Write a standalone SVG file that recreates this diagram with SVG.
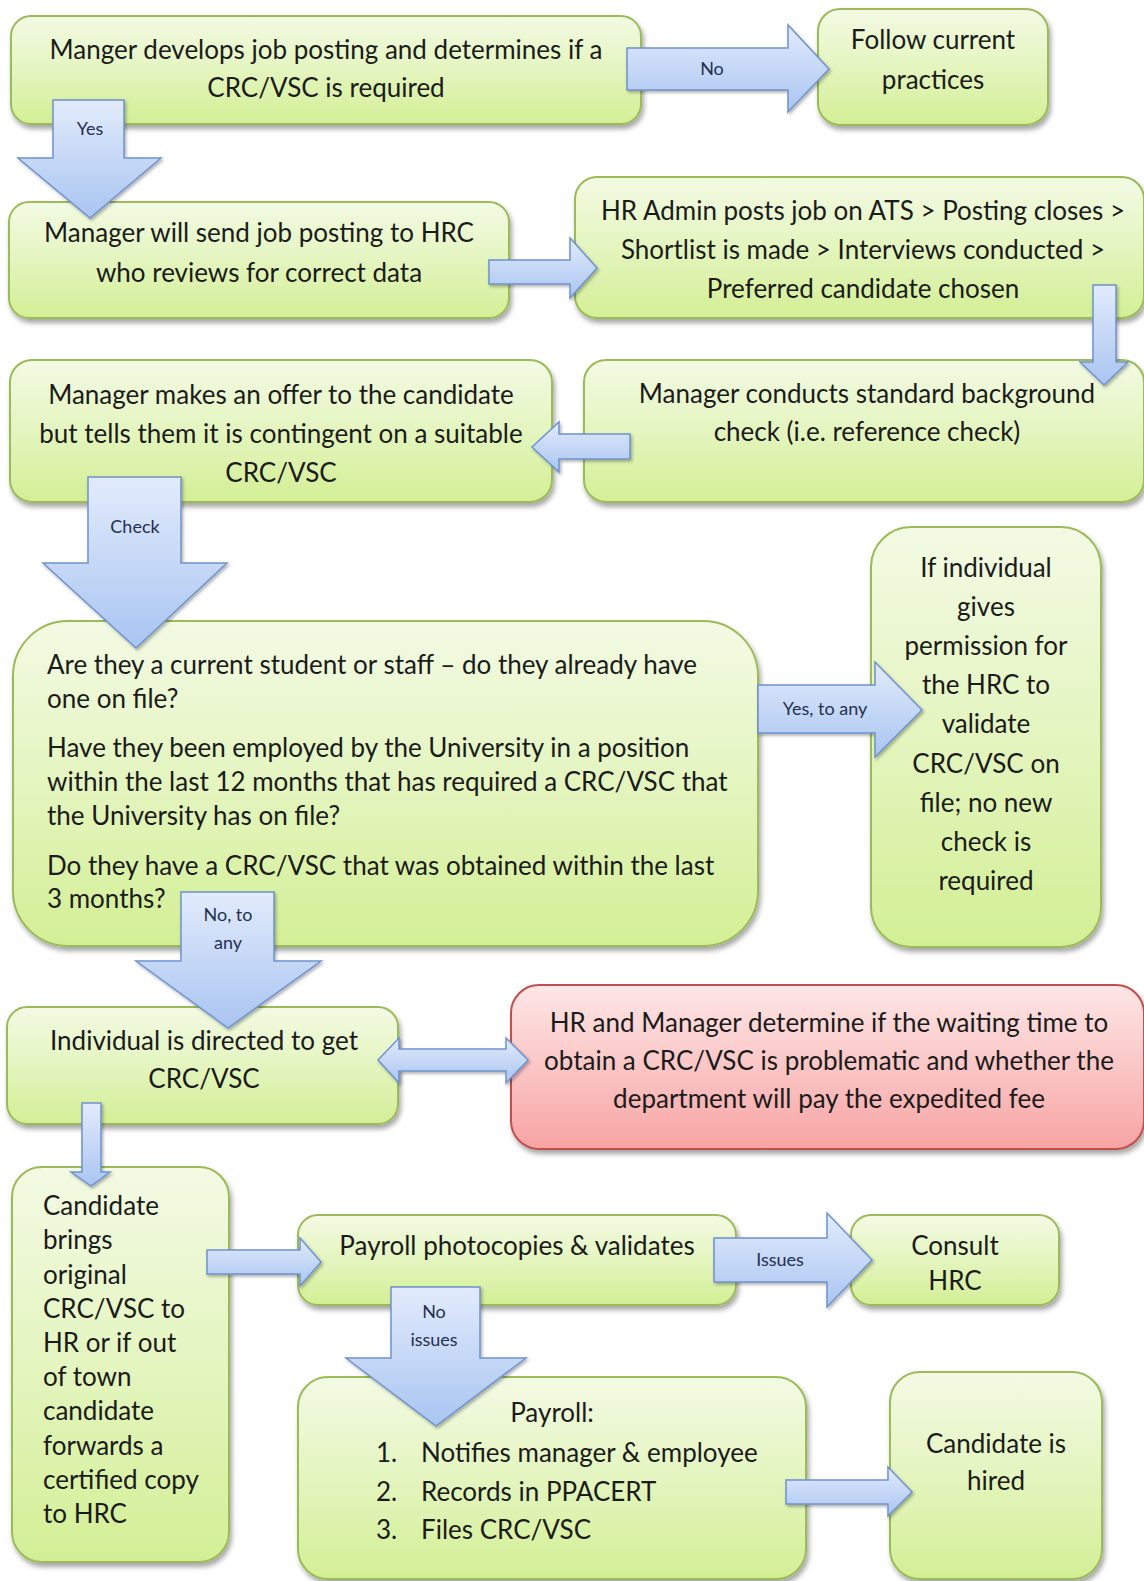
<svg xmlns="http://www.w3.org/2000/svg" width="1144" height="1581" viewBox="0 0 1144 1581">
<defs>
<linearGradient id="gGreen" x1="0" y1="0" x2="0" y2="1">
<stop offset="0" stop-color="#f3fae4"/>
<stop offset="0.5" stop-color="#e4f5bf"/>
<stop offset="1" stop-color="#d3ef95"/>
</linearGradient>
<linearGradient id="gRed" x1="0" y1="0" x2="0" y2="1">
<stop offset="0" stop-color="#fde6e6"/>
<stop offset="0.5" stop-color="#fbc6c6"/>
<stop offset="1" stop-color="#f7a3a3"/>
</linearGradient>
<linearGradient id="gBlue" x1="0" y1="0" x2="0" y2="1">
<stop offset="0" stop-color="#e2ebfc"/>
<stop offset="1" stop-color="#a9c5f1"/>
</linearGradient>
<filter id="sh" x="-10%" y="-10%" width="120%" height="125%">
<feDropShadow dx="2" dy="4" stdDeviation="2.5" flood-color="#000" flood-opacity="0.35"/>
</filter>
<filter id="ash" x="-10%" y="-10%" width="125%" height="125%">
<feDropShadow dx="1.5" dy="2" stdDeviation="1.5" flood-color="#000" flood-opacity="0.3"/>
</filter>
</defs>
<style>
.box{fill:url(#gGreen);stroke:#9bbb59;stroke-width:2;filter:url(#sh)}
.red{fill:url(#gRed);stroke:#c0504d;stroke-width:2;filter:url(#sh)}
.arr{fill:url(#gBlue);stroke:#6f93cc;stroke-width:1.5;filter:url(#ash)}
text{font-family:Lato,"Liberation Sans",sans-serif;fill:#1b1b1b}
.t{font-size:26px;text-anchor:middle}
.tl{font-size:26px}
.lb{font-size:18px;text-anchor:middle;fill:#243050}
</style>
<rect width="1144" height="1581" fill="#ffffff"/>

<g id="n1">
<rect class="box" x="11" y="16" width="630" height="108" rx="20"/>
<text class="t" x="326" y="59">Manger develops job posting and determines if a</text>
<text class="t" x="326" y="97">CRC/VSC is required</text>
</g>
<g id="n2">
<rect class="box" x="818" y="9" width="230" height="116" rx="22"/>
<text class="t" x="933" y="49">Follow current</text>
<text class="t" x="933" y="89">practices</text>
</g>
<g id="n3">
<rect class="box" x="9" y="202" width="500" height="116" rx="20"/>
<text class="t" x="259" y="242">Manager will send job posting to HRC</text>
<text class="t" x="259" y="282">who reviews for correct data</text>
</g>
<g id="n4">
<rect class="box" x="575" y="177" width="569" height="141" rx="22"/>
<text class="t" x="863" y="220">HR Admin posts job on ATS &gt; Posting closes &gt;</text>
<text class="t" x="863" y="259">Shortlist is made &gt; Interviews conducted &gt;</text>
<text class="t" x="863" y="298">Preferred candidate chosen</text>
</g>
<g id="n5">
<rect class="box" x="584" y="360" width="560" height="142" rx="22"/>
<text class="t" x="867" y="403">Manager conducts standard background</text>
<text class="t" x="867" y="441">check (i.e. reference check)</text>
</g>
<g id="n6">
<rect class="box" x="10" y="360" width="542" height="142" rx="22"/>
<text class="t" x="281" y="404">Manager makes an offer to the candidate</text>
<text class="t" x="281" y="443">but tells them it is contingent on a suitable</text>
<text class="t" x="281" y="482">CRC/VSC</text>
</g>
<g id="n7">
<rect class="box" x="13" y="621" width="745" height="325" rx="55"/>
<text class="tl" x="47" y="674">Are they a current student or staff – do they already have</text>
<text class="tl" x="47" y="708">one on file?</text>
<text class="tl" x="47" y="757">Have they been employed by the University in a position</text>
<text class="tl" x="47" y="791">within the last 12 months that has required a CRC/VSC that</text>
<text class="tl" x="47" y="825">the University has on file?</text>
<text class="tl" x="47" y="875">Do they have a CRC/VSC that was obtained within the last</text>
<text class="tl" x="47" y="908">3 months?</text>
</g>
<g id="n8">
<rect class="box" x="871" y="527" width="230" height="420" rx="40"/>
<text class="t" x="986" y="577">If individual</text>
<text class="t" x="986" y="616">gives</text>
<text class="t" x="986" y="655">permission for</text>
<text class="t" x="986" y="694">the HRC to</text>
<text class="t" x="986" y="733">validate</text>
<text class="t" x="986" y="773">CRC/VSC on</text>
<text class="t" x="986" y="812">file; no new</text>
<text class="t" x="986" y="851">check is</text>
<text class="t" x="986" y="890">required</text>
</g>
<g id="n9">
<rect class="box" x="7" y="1007" width="391" height="117" rx="20"/>
<text class="t" x="204" y="1050">Individual is directed to get</text>
<text class="t" x="204" y="1088">CRC/VSC</text>
</g>
<g id="n10">
<rect class="red" x="511" y="985" width="633" height="164" rx="28"/>
<text class="t" x="829" y="1032">HR and Manager determine if the waiting time to</text>
<text class="t" x="829" y="1070">obtain a CRC/VSC is problematic and whether the</text>
<text class="t" x="829" y="1108">department will pay the expedited fee</text>
</g>
<g id="n11">
<rect class="box" x="12" y="1167" width="217" height="395" rx="30"/>
<text class="tl" x="43" y="1215">Candidate</text>
<text class="tl" x="43" y="1249">brings</text>
<text class="tl" x="43" y="1284">original</text>
<text class="tl" x="43" y="1318">CRC/VSC to</text>
<text class="tl" x="43" y="1352">HR or if out</text>
<text class="tl" x="43" y="1386">of town</text>
<text class="tl" x="43" y="1420">candidate</text>
<text class="tl" x="43" y="1455">forwards a</text>
<text class="tl" x="43" y="1489">certified copy</text>
<text class="tl" x="43" y="1523">to HRC</text>
</g>
<g id="n12">
<rect class="box" x="298" y="1215" width="438" height="90" rx="20"/>
<text class="t" x="517" y="1255">Payroll photocopies &amp; validates</text>
</g>
<g id="n13">
<rect class="box" x="851" y="1215" width="208" height="90" rx="20"/>
<text class="t" x="955" y="1255">Consult</text>
<text class="t" x="955" y="1290">HRC</text>
</g>
<g id="n14">
<rect class="box" x="298" y="1377" width="508" height="202" rx="30"/>
<text class="t" x="552" y="1422">Payroll:</text>
<text class="tl" x="376" y="1462">1.</text>
<text class="tl" x="421" y="1462">Notifies manager &amp; employee</text>
<text class="tl" x="376" y="1501">2.</text>
<text class="tl" x="421" y="1501">Records in PPACERT</text>
<text class="tl" x="376" y="1539">3.</text>
<text class="tl" x="421" y="1539">Files CRC/VSC</text>
</g>
<g id="n15">
<rect class="box" x="890" y="1372" width="212" height="207" rx="30"/>
<text class="t" x="996" y="1453">Candidate is</text>
<text class="t" x="996" y="1490">hired</text>
</g>

<g id="connectors">
<path class="arr" d="M627,48 H788 V25 L829,69 L788,112 V90 H627 Z"/>
<text class="lb" x="712" y="75">No</text>
<path class="arr" d="M53,100 H124 V158 H161 L90,218 L18,158 H53 Z"/>
<text class="lb" x="90" y="135">Yes</text>
<path class="arr" d="M489,260 H570 V238 L597,268 L570,298 V284 H489 Z"/>
<path class="arr" d="M1093,285 H1116 V362 H1128 L1104,385 L1080,362 H1093 Z"/>
<path class="arr" d="M630,434 H559 V422 L532,447 L559,472 V459 H630 Z"/>
<path class="arr" d="M88,477 H181 V563 H227 L136,648 L43,563 H88 Z"/>
<text class="lb" x="135" y="533">Check</text>
<path class="arr" d="M758,685 H875 V662 L922,710 L875,757 V733 H758 Z"/>
<text class="lb" x="825" y="715">Yes, to any</text>
<path class="arr" d="M181,892 H274 V961 H321 L228,1028 L136,961 H181 Z"/>
<text class="lb" x="228" y="921">No, to</text>
<text class="lb" x="228" y="949">any</text>
<path class="arr" d="M378,1060 L399,1038 V1049 H506 V1038 L528,1060 L506,1083 V1071 H399 V1083 Z"/>
<path class="arr" d="M82,1103 H101 V1172 H110 L91,1186 L71,1172 H82 Z"/>
<path class="arr" d="M207,1250 H300 V1238 L321,1262 L300,1286 V1274 H207 Z"/>
<path class="arr" d="M714,1238 H827 V1213 L872,1260 L827,1307 V1282 H714 Z"/>
<text class="lb" x="780" y="1266">Issues</text>
<path class="arr" d="M391,1287 H480 V1358 H526 L436,1426 L346,1358 H391 Z"/>
<text class="lb" x="434" y="1318">No</text>
<text class="lb" x="434" y="1346">issues</text>
<path class="arr" d="M786,1480 H888 V1467 L912,1492 L888,1516 V1504 H786 Z"/>
</g>
</svg>
